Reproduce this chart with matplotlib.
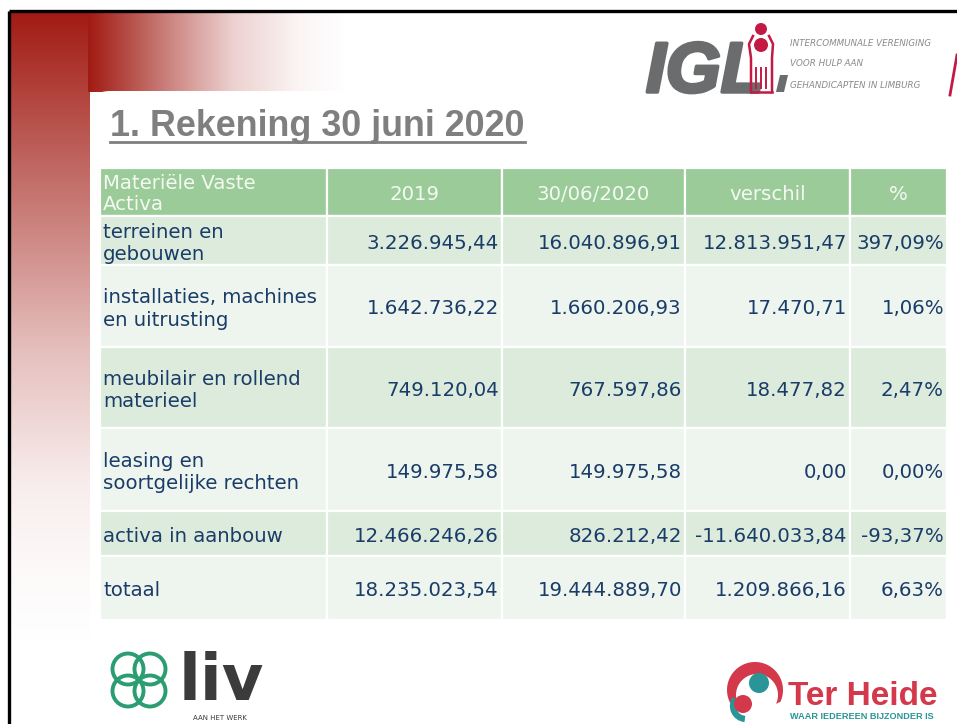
import numpy as np
import matplotlib
matplotlib.use("Agg")
import matplotlib.pyplot as plt
import matplotlib.patheffects as pe
from matplotlib.patches import Rectangle, FancyBboxPatch, Circle, Arc, Polygon
from matplotlib.colors import to_rgb

# table data
header = ["Materiële Vaste\nActiva", "2019", "30/06/2020", "verschil", "%"]
categories = ["terreinen en\ngebouwen",
              "installaties, machines\nen uitrusting",
              "meubilair en rollend\nmaterieel",
              "leasing en\nsoortgelijke rechten",
              "activa in aanbouw",
              "totaal"]
val_2019 = [3226945.44, 1642736.22, 749120.04, 149975.58, 12466246.26, 18235023.54]
val_2020 = [16040896.91, 1660206.93, 767597.86, 149975.58, 826212.42, 19444889.70]
verschil = [12813951.47, 17470.71, 18477.82, 0.00, -11640033.84, 1209866.16]
procent = [397.09, 1.06, 2.47, 0.00, -93.37, 6.63]

W, H = 957, 724
RED = "#a11b13"
NAVY = "#1a3c68"


def nl(v, dec=2):
    s = f"{v:,.{dec}f}"
    return s.replace(",", "X").replace(".", ",").replace("X", ".")


fig = plt.figure(figsize=(W / 100, H / 100), dpi=100)
ax = fig.add_axes([0, 0, 1, 1])
ax.set_xlim(0, W)
ax.set_ylim(H, 0)
ax.axis("off")

# --- background gradients ---
red = np.array(to_rgb(RED))
white = np.ones(3)

ys = np.arange(12, H + 1)
tv = np.interp(ys, [12, 150, 350, 483, 560, 640], [0, 0.3, 0.72, 0.92, 0.97, 1.0])
col = red[None, :] * (1 - tv[:, None]) + white[None, :] * tv[:, None]
ax.imshow(col[:, None, :], extent=(10, 90, H, 12), aspect="auto", zorder=0)

xs = np.arange(88, 346)
th = np.interp(xs, [88, 133, 167, 233, 300, 345], [0, 0.25, 0.45, 0.8, 0.96, 1.0])
colh = red[None, :] * (1 - th[:, None]) + white[None, :] * th[:, None]
ax.imshow(colh[None, :, :], extent=(88, 346, 92, 12), aspect="auto", zorder=0)

ax.add_patch(FancyBboxPatch((90, 91), W, H, boxstyle="round,pad=0,rounding_size=20",
                            fc="white", ec="none", zorder=1))

# page border
ax.plot([9, W], [11, 11], color="black", lw=2.4, zorder=5, solid_capstyle="butt")
ax.plot([9, 9], [11, H], color="black", lw=2.4, zorder=5, solid_capstyle="butt")

# --- title ---
ax.text(110, 136, "1. Rekening 30 juni 2020", fontsize=25.8, fontweight="bold",
        color="#7f7f7f", family="Liberation Sans", va="baseline", ha="left", zorder=3)
ax.plot([110, 525], [141.5, 141.5], color="#7f7f7f", lw=2, zorder=3)

# --- table ---
col_x = [100, 327, 502, 685, 850, 947]
row_y = [168, 216, 265, 347, 428, 511, 556, 620]
fills = ["#9bcb98", "#dcebdc", "#eef5ee", "#dcebdc", "#eef5ee", "#dcebdc", "#eef5ee"]
fs = 14.2

for r in range(len(row_y) - 1):
    for c in range(len(col_x) - 1):
        ax.add_patch(Rectangle((col_x[c], row_y[r]), col_x[c + 1] - col_x[c],
                               row_y[r + 1] - row_y[r], fc=fills[r], ec="white",
                               lw=1.6, zorder=2))

hy = (row_y[0] + row_y[1]) / 2 + 2
ax.text(col_x[0] + 3, hy, header[0], fontsize=fs, color="#f4f9f2", va="center",
        ha="left", linespacing=1.13, zorder=3)
for c in range(1, 5):
    ax.text((col_x[c] + col_x[c + 1]) / 2, hy, header[c], fontsize=fs,
            color="#f4f9f2", va="center", ha="center", zorder=3)

columns = [[nl(v) for v in val_2019], [nl(v) for v in val_2020],
           [nl(v) for v in verschil], [nl(v) + "%" for v in procent]]
for r, cat in enumerate(categories):
    yc = (row_y[r + 1] + row_y[r + 2]) / 2 + 3
    ax.text(col_x[0] + 3, yc, cat, fontsize=fs, color=NAVY, va="center",
            ha="left", linespacing=1.22, zorder=3)
    for c, vals in enumerate(columns):
        ax.text(col_x[c + 2] - 3, yc, vals[r], fontsize=fs, color=NAVY,
                va="center", ha="right", zorder=3)

# --- IGL logo ---
igl_gray = "#6b6c6e"
ax.text(646, 92, "IGL", fontsize=51, fontweight="bold", fontstyle="italic",
        family="Liberation Sans", color=igl_gray, va="baseline", zorder=3,
        path_effects=[pe.withStroke(linewidth=2.5, foreground=igl_gray)])
ax.add_patch(Polygon([[776, 92], [784, 92], [788, 75], [780, 75]], fc=igl_gray,
                     ec="none", zorder=3))
lred = "#c21a45"
ax.add_patch(Circle((761, 29), 6, fc=lred, ec="none", zorder=4))
ax.add_patch(Circle((761, 45), 7, fc=lred, ec="none", zorder=4))
ax.plot([753, 749, 751, 751], [36, 44, 58, 92], color=lred, lw=1.8, zorder=4)
ax.plot([769, 773, 772, 772], [36, 44, 58, 92], color=lred, lw=1.8, zorder=4)
for xx in (756, 761, 766):
    ax.plot([xx, xx], [68, 88], color=lred, lw=1.4, zorder=4)
ax.plot([751, 772], [92, 92], color=lred, lw=1.8, zorder=4)
for yy, s in zip([46, 66, 88], ["INTERCOMMUNALE VERENIGING", "VOOR HULP AAN",
                                "GEHANDICAPTEN IN LIMBURG"]):
    ax.text(790, yy, s, fontsize=6.3, fontstyle="italic", color="#8a8a8a",
            va="baseline", ha="left", zorder=3)
ax.plot([950, 957], [95, 55], color=lred, lw=2, zorder=3)

# --- liv logo ---
green = "#2a9d72"
for dx, dy in [(-11, -11), (11, -11), (-11, 11), (11, 11)]:
    ax.add_patch(Circle((139 + dx, 680 + dy), 15.5, fc="none", ec=green, lw=2.8, zorder=3))
ax.text(179, 700, "liv", fontsize=46, fontweight="bold", color="#3b3b3b",
        va="baseline", ha="left", zorder=3)
ax.text(193, 720, "AAN HET WERK", fontsize=5, color="#3b3b3b", va="baseline",
        ha="left", zorder=3)

# --- Ter Heide logo ---
thred = "#d3394a"
teal = "#2a9597"
ang = np.radians(np.linspace(150, 385, 60))
outer = np.c_[755 + 28 * np.cos(ang), 690 + 28 * np.sin(ang)]
inner = np.c_[757 + 21 * np.cos(ang[::-1]), 695 + 21 * np.sin(ang[::-1])]
ax.add_patch(Polygon(np.vstack([outer, inner]), fc=thred, ec="none", zorder=3))
ax.add_patch(Circle((759, 683), 10, fc=teal, ec="none", zorder=3))
ax.add_patch(Arc((746, 706), 26, 26, theta1=95, theta2=215, color=teal, lw=4.5, zorder=3))
ax.add_patch(Circle((743, 704), 9, fc=thred, ec="none", zorder=4))
ax.text(788, 705, "Ter Heide", fontsize=24, fontweight="bold", color=thred,
        family="Liberation Sans", va="baseline", ha="left", zorder=3)
ax.text(790, 719, "WAAR IEDEREEN BIJZONDER IS", fontsize=6.6, fontweight="bold",
        color=teal, family=["Liberation Sans Narrow", "Liberation Sans"],
        va="baseline", ha="left", zorder=3)

fig.savefig("out.png", dpi=100)
